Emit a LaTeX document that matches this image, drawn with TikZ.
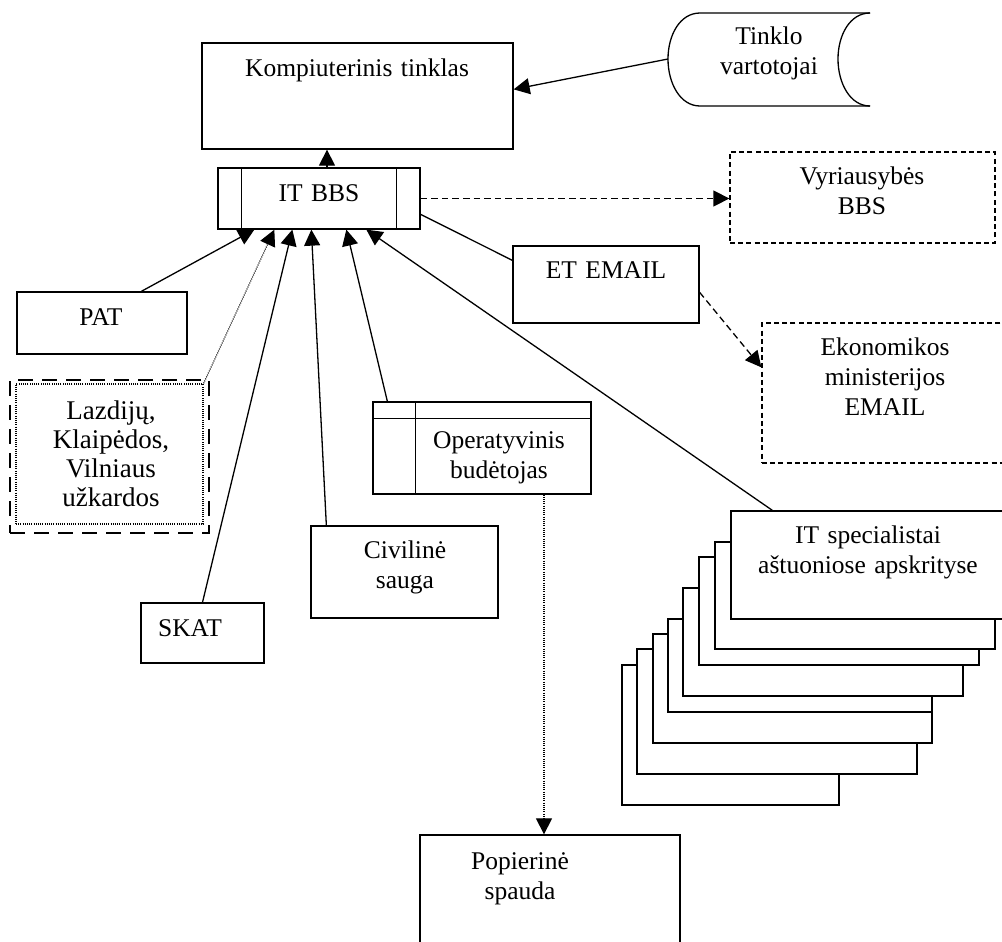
\documentclass[tikz,border=0pt]{standalone}
\usepackage{fontspec}
\setmainfont{Liberation Serif}
\usetikzlibrary{arrows.meta,fit,calc}
\begin{document}
\begin{tikzpicture}[x=0.5pt,y=-0.5pt,
  ln/.style={line width=0.65pt},
  box/.style={draw, ln, fill=white, inner sep=0pt, rectangle},
  dbox/.style={box, dash pattern=on 2.5pt off 1.6pt},
  txt/.style={anchor=base, align=center, inner sep=0pt, text width=#1, font=\fontsize{12.75}{15}\selectfont},
  txt/.default=150pt,
  tip/.style={-{Triangle[length=8pt,width=8pt]}},
  arr/.style={ln, tip},
  darr/.style={arr, dash pattern=on 3.3pt off 2pt},
  dotline/.style={line width=0.6pt, dash pattern=on 0.5pt off 0.6pt}
]
\useasboundingbox (0,0) rectangle (1002,942);

% Kompiuterinis tinklas
\node[box, fit={(202,43) (513,149)}] (komp) {};
\node[txt] (kompt) at (357,76) {Kompiuterinis tinklas};

% Tinklo vartotojai (stored data shape)
\draw[ln] (870,13) -- (700,13) .. controls (680,13) and (668,35) .. (668,59)
  .. controls (668,83) and (680,106) .. (700,106) -- (870,106);
\draw[ln] (870,13) .. controls (850,13) and (838,35) .. (838,59)
  .. controls (838,83) and (850,106) .. (870,106);
\coordinate (tinkloL) at (668,59);
\node[txt] (tinklo) at (769,45) {Tinklo\\vartotojai};

% IT BBS
\node[box, fit={(218,168) (420,229)}] (itbbs) {};
\draw[ln] ($(itbbs.north west)+(24,0)$) -- ($(itbbs.south west)+(24,0)$);
\draw[ln] ($(itbbs.north east)+(-24,0)$) -- ($(itbbs.south east)+(-24,0)$);
\node[txt] (itbbst) at (319,201) {IT BBS};

% Vyriausybes BBS
\node[dbox, fit={(730,152) (995,243)}] (vyr) {};
\node[txt] (vyrt) at (862,184) {Vyriausybės\\BBS};

% ET EMAIL
\node[box, fit={(513,246) (699,323)}] (et) {};
\node[txt] (ett) at (606,278) {ET EMAIL};

% Ekonomikos ministerijos EMAIL
\node[dbox, fit={(762,323) (1008,463)}] (ekon) {};
\node[txt] (ekont) at (885,355) {Ekonomikos\\ministerijos\\EMAIL};

% PAT
\node[box, fit={(17,292) (187,354)}] (pat) {};
\node[txt] (patt) at (101,325) {PAT};

% Lazdiju ...
\node[draw, line width=1.3pt, dash pattern=on 7.5pt off 4.5pt, inner sep=0pt, fit={(10,380) (209,533)}] (lazdout) {};
\node[draw, dotline, inner sep=0pt, fit={(16,384) (203,524)}] (lazd) {};
\node[txt, font=\fontsize{13.5}{14.6}\selectfont] (lazdt) at (111,419) {Lazdijų,\\Klaipėdos,\\Vilniaus\\užkardos};

% SKAT
\node[box, fit={(141,603) (264,663)}] (skat) {};
\node[txt] (skatt) at (190,636) {SKAT};

% Civiline sauga
\node[box, fit={(311,526) (498,618)}] (civ) {};
\node[txt] (civt) at (405,558) {Civilinė\\sauga};

% Operatyvinis budetojas
\node[box, fit={(373,402) (591,494)}] (oper) {};
\draw[ln] ($(oper.north west)+(0,17)$) -- ($(oper.north east)+(0,17)$);
\draw[ln] ($(oper.north west)+(43,0)$) -- ($(oper.south west)+(43,0)$);
\node[txt] (opert) at (499,448) {Operatyvinis\\budėtojas};

% Popierine spauda
\node[box, fit={(420,835) (680,962)}] (pop) {};
\node[txt] (popt) at (520,869) {Popierinė\\spauda};

% IT specialistai stack
\foreach \a/\b/\c/\d in {622/665/839/805, 637/649/917/774, 653/634/932/743,
  668/619/932/712, 683/588/963/696, 699/557/979/665, 715/542/995/649}
  \filldraw[ln, fill=white] (\a,\b) rectangle (\c,\d);
\node[box, fit={(731,511) (1010,619)}] (itspec) {};
\node[txt] (itspect) at (868,543) {IT specialistai\\aštuoniose apskrityse};

% connectors
\draw[arr] (tinkloL) -- ($(komp.north east)+(0,47)$);
\draw[arr] ($(itbbs.north)+(8,0)$) -- ($(komp.south)+(-30.5,0)$);
\draw[darr] (itbbs.east) -- (itbbs.east -| vyr.west);
\draw[ln] ($(itbbs.north east)+(0,47)$) -- ($(et.north west)+(0,15)$);
\draw[darr] ($(et.north east)+(0,47)$) -- ($(ekon.north west)+(0,45)$);
\draw[arr] ($(pat.north west)+(125,0)$) -- ($(itbbs.south west)+(37,0)$);
\draw[dotline, tip] (lazd.north east) -- ($(itbbs.south west)+(57,0)$);
\draw[arr] (skat.north) -- ($(itbbs.south west)+(75,0)$);
\draw[arr] ($(civ.north west)+(16,0)$) -- ($(itbbs.south west)+(94,0)$);
\draw[arr] ($(oper.north west)+(15,0)$) -- ($(itbbs.south west)+(129,0)$);
\draw[arr] ($(itspec.north west)+(42,0)$) -- ($(itbbs.south west)+(149,0)$);
\draw[dotline, tip] ($(oper.south)+(62,0)$) -- ($(pop.north)+(-6,0)$);
\end{tikzpicture}
\end{document}
